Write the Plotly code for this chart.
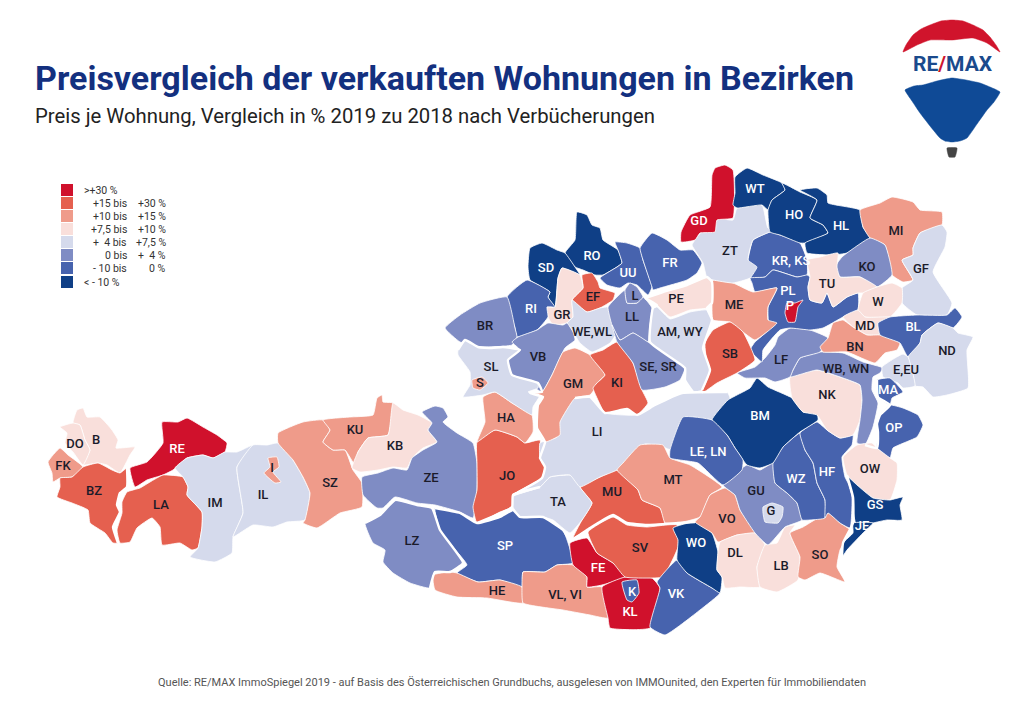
import plotly.graph_objects as go

# --- Daten ---
legende_links = [">+30 %", "+15 bis", "+10 bis", "+7,5 bis", "+  4 bis", "0 bis", "- 10 bis", "< - 10 %"]
legende_rechts = ["", "+30 %", "+15 %", "+10 %", "+7,5 %", "+  4 %", "0 %", ""]

# Klasse je Bezirk: 0 = >+30 % ... 7 = <-10 %
farben = ["#d0112c", "#e5604f", "#ef9b8a", "#f9dfdb", "#d5daec", "#7f8cc4", "#4763ae", "#0f3f86"]

bezirke = ["B", "DO", "FK", "BZ", "RE", "LA", "IM", "IL", "I", "SZ", "KU", "KB", "ZE", "LZ", "SP", "HE",
           "VL, VI", "FE", "KL", "K", "SV", "VK", "WO", "MU", "TA", "JO", "HA", "LI", "MT", "VO", "DL", "LB",
           "SO", "GU", "G", "WZ", "HF", "BM", "LE, LN", "NK", "WB, WN", "LF", "KR, KS", "PL", "P", "ME", "SB",
           "ZT", "GD", "WT", "HO", "HL", "MI", "GF", "KO", "TU", "W", "MD", "BN", "BL", "ND", "E,EU", "MA",
           "OP", "OW", "GS", "JE", "RO", "SD", "UU", "FR", "EF", "GR", "WE,WL", "RI", "BR", "VB", "SL", "S",
           "GM", "KI", "LL", "L", "SE, SR", "PE", "AM, WY"]

klassen = [3, 3, 2, 1, 0, 1, 4, 4, 2, 2, 2, 3, 5, 5, 6, 2,
           2, 0, 0, 6, 1, 6, 7, 1, 4, 1, 2, 4, 2, 2, 3, 3,
           2, 5, 4, 6, 6, 7, 6, 3, 5, 5, 6, 6, 0, 2, 1,
           4, 0, 7, 7, 7, 2, 4, 5, 3, 3, 3, 2, 6, 4, 4, 6,
           6, 3, 7, 7, 7, 7, 6, 6, 1, 3, 4, 6, 5, 5, 4, 2,
           2, 1, 5, 5, 5, 3, 4]

label_x = [96, 75, 63, 94, 177, 161, 215, 263, 272, 330, 355, 395, 431, 412, 505, 497,
           565, 598, 630, 632, 640, 676, 696, 612, 558, 507, 506, 597, 673, 727, 735, 781,
           820, 756, 771, 796, 827, 760, 708, 827, 846, 781, 791, 788, 790, 734, 730,
           730, 699, 755, 794, 841, 896, 921, 867, 827, 878, 865, 855, 913, 947, 906, 888,
           894, 870, 875, 862, 592, 546, 628, 670, 593, 562, 592, 531, 485, 538, 491, 480,
           573, 617, 632, 635, 658, 676, 680]
label_y = [441, 445, 467, 492, 450, 506, 504, 496, 469, 484, 431, 447, 479, 542, 547, 592,
           596, 569, 613, 593, 549, 595, 544, 493, 503, 477, 419, 433, 481, 520, 554, 567,
           556, 492, 512, 480, 473, 417, 453, 396, 370, 361, 262, 292, 307, 306, 355,
           252, 222, 190, 216, 227, 232, 270, 268, 285, 303, 327, 348, 328, 352, 371, 391,
           429, 470, 506, 527, 257, 269, 274, 264, 298, 316, 333, 310, 327, 358, 368, 384,
           385, 384, 318, 297, 368, 300, 333]

umrisse = [
    [(73,423),(77,410),(83,408),(87,417),(100,417),(112,430),(118,440),(116,448),(135,447),(130,455),(120,473),(107,465),(98,463),(83,465),(90,450),(85,440),(80,425)],
    [(60,427),(73,423),(80,425),(85,440),(90,450),(83,465),(73,452),(65,443),(67,433)],
    [(48,462),(60,448),(68,455),(83,467),(72,477),(60,478),(53,482),(52,473)],
    [(60,478),(72,477),(83,467),(98,463),(112,470),(120,473),(127,468),(127,487),(120,493),(117,505),(120,512),(113,527),(118,543),(113,543),(105,533),(90,523),(88,510),(72,503),(57,497),(60,487)],
    [(162,422),(178,422),(187,418),(203,427),(217,435),(227,443),(225,452),(213,458),(203,455),(187,458),(173,470),(163,475),(147,480),(135,487),(130,468),(147,462),(163,443)],
    [(127,492),(140,488),(150,482),(163,475),(183,477),(188,487),(187,495),(202,512),(202,527),(198,548),(192,550),(180,543),(162,545),(160,527),(152,518),(137,528),(130,542),(120,543),(117,530),(122,513),(122,502)],
    [(175,468),(187,458),(203,455),(213,458),(225,452),(237,452),(253,445),(237,467),(243,513),(233,537),(232,553),(215,562),(190,557),(198,548),(202,527),(202,512),(187,495),(188,487),(183,477)],
    [(253,445),(267,445),(278,443),(293,460),(303,477),(310,493),(305,520),(287,522),(273,527),(253,525),(233,537),(243,513),(237,467)],
    [(268,458),(277,457),(279,467),(273,472),(281,482),(275,483),(264,473),(270,467)],
    [(278,433),(303,422),(323,420),(330,430),(323,442),(333,450),(345,450),(353,470),(362,483),(362,507),(340,513),(317,528),(303,523),(305,520),(310,493),(303,477),(293,460),(278,443)],
    [(323,420),(350,417),(373,415),(377,398),(382,395),(383,402),(393,403),(388,435),(368,438),(358,452),(355,465),(345,450),(333,450),(323,442),(330,430)],
    [(393,403),(403,410),(418,415),(432,423),(428,430),(437,442),(423,448),(412,458),(407,468),(393,467),(378,470),(360,472),(352,468),(358,452),(368,438),(388,435)],
    [(422,412),(435,406),(443,408),(448,417),(443,422),(457,433),(473,443),(477,463),(477,490),(473,518),(460,512),(435,505),(417,503),(395,497),(383,508),(377,508),(363,495),(362,477),(378,473),(393,468),(407,470),(412,458),(423,450),(437,442),(428,430),(432,423)],
    [(365,523),(380,515),(395,500),(417,505),(432,508),(440,530),(463,563),(450,572),(435,572),(430,588),(410,583),(393,573),(383,562),(385,550),(373,543)],
    [(435,508),(460,513),(477,523),(500,517),(513,510),(520,517),(543,517),(563,530),(573,563),(557,565),(545,572),(523,572),(522,587),(500,580),(478,582),(457,573),(467,565),(453,547),(440,530)],
    [(433,575),(450,572),(457,573),(478,582),(500,580),(522,587),(523,603),(487,598),(457,597),(435,590)],
    [(522,587),(523,572),(545,572),(557,565),(573,565),(587,577),(587,587),(602,587),(608,618),(590,615),(563,610),(523,603)],
    [(570,543),(587,538),(597,553),(613,563),(625,577),(602,585),(587,587),(587,577),(573,565)],
    [(602,587),(625,577),(652,578),(660,588),(650,628),(610,628),(608,618)],
    [(622,582),(637,580),(639,593),(632,602),(627,600)],
    [(588,532),(613,517),(627,525),(647,527),(677,525),(678,547),(663,577),(652,578),(625,577),(613,563),(597,553)],
    [(677,560),(687,573),(712,588),(720,593),(700,610),(665,635),(650,627),(660,588),(657,582)],
    [(673,528),(695,522),(712,533),(718,552),(717,570),(722,577),(720,593),(712,588),(687,573),(677,560),(678,540)],
    [(580,487),(600,477),(617,470),(638,490),(642,500),(660,508),(665,523),(647,525),(627,523),(613,515),(590,528),(573,538),(582,520),(592,503)],
    [(512,497),(540,487),(550,477),(570,475),(582,480),(580,487),(592,503),(582,520),(570,533),(553,520),(543,517),(520,517),(513,507)],
    [(477,442),(495,430),(517,437),(525,443),(540,440),(540,458),(545,467),(542,478),(513,495),(512,507),(500,512),(477,523),(473,507),(477,490),(477,463)],
    [(483,397),(495,392),(512,403),(532,415),(533,432),(525,443),(517,437),(495,430),(477,442),(485,422)],
    [(540,443),(557,437),(560,413),(568,400),(590,397),(605,413),(637,415),(655,405),(682,393),(700,392),(727,392),(730,398),(712,420),(685,417),(672,450),(663,447),(645,444),(623,463),(617,470),(600,477),(580,487),(570,475),(550,477),(540,487),(513,495),(542,478),(545,467),(540,458)],
    [(640,445),(663,445),(670,458),(690,465),(722,487),(710,495),(700,517),(678,523),(665,523),(660,508),(642,500),(638,490),(617,470),(623,463)],
    [(700,517),(710,495),(725,488),(735,495),(740,510),(755,533),(737,535),(718,542),(712,533),(695,522)],
    [(720,542),(737,535),(755,533),(765,545),(757,567),(760,587),(740,587),(725,588),(722,577),(717,570),(718,552)],
    [(765,545),(777,543),(785,527),(795,525),(790,533),(800,557),(798,580),(777,592),(760,587),(757,567)],
    [(790,533),(803,527),(828,513),(840,523),(850,530),(840,550),(837,567),(845,582),(820,573),(805,580),(798,577),(800,557)],
    [(723,485),(747,465),(760,470),(773,463),(775,483),(787,493),(797,503),(802,520),(785,527),(768,545),(755,533),(740,510),(735,495)],
    [(763,507),(772,503),(783,507),(782,517),(778,523),(765,522),(763,513)],
    [(783,447),(800,433),(805,450),(813,463),(817,483),(825,500),(825,518),(810,520),(802,520),(797,503),(787,493),(775,483),(773,463)],
    [(800,433),(817,422),(827,430),(840,438),(853,435),(852,445),(842,457),(845,477),(848,483),(852,497),(850,528),(840,523),(828,513),(825,518),(825,500),(817,483),(813,463),(805,450)],
    [(712,420),(728,400),(750,388),(757,378),(768,387),(792,398),(803,412),(817,413),(818,420),(800,432),(783,447),(773,463),(760,468),(747,465),(735,448),(727,435)],
    [(670,450),(683,417),(712,420),(727,435),(735,448),(743,460),(742,470),(723,485),(698,463),(670,458)],
    [(790,377),(817,370),(843,378),(860,385),(862,400),(860,420),(853,435),(840,438),(827,430),(817,415),(803,412),(792,398)],
    [(820,352),(843,353),(863,362),(883,368),(880,373),(873,377),(872,390),(878,403),(873,427),(865,445),(857,443),(860,420),(862,400),(860,385),(843,378),(817,370),(790,377),(793,370),(800,358)],
    [(737,373),(755,367),(765,358),(775,345),(778,337),(790,328),(810,330),(828,338),(820,352),(800,358),(793,370),(790,377),(775,382),(765,378),(745,378)],
    [(753,240),(770,232),(780,235),(800,243),(807,260),(807,275),(797,277),(773,270),(765,277),(750,278),(748,260)],
    [(750,278),(765,277),(773,270),(797,277),(807,275),(810,277),(808,287),(810,300),(822,303),(827,293),(833,307),(847,297),(858,293),(858,310),(843,317),(823,328),(810,330),(790,328),(780,330),(763,350),(762,362),(750,350),(755,342),(768,330),(768,307),(777,288),(755,292),(752,283)],
    [(787,303),(795,303),(803,300),(798,307),(795,322),(788,322),(785,313)],
    [(713,280),(733,283),(753,292),(777,288),(768,307),(768,320),(777,323),(755,340),(743,332),(730,322),(713,320),(712,300)],
    [(705,343),(713,330),(730,322),(743,332),(755,360),(737,373),(717,383),(702,393),(707,367)],
    [(713,218),(733,220),(737,208),(762,205),(768,228),(778,230),(770,232),(753,240),(748,260),(757,267),(750,278),(733,283),(713,280),(707,278),(703,263),(692,245),(695,240)],
    [(681,242),(681,232),(690,215),(710,207),(712,175),(715,168),(725,165),(733,170),(733,218),(717,220),(715,232),(700,233),(695,240)],
    [(735,177),(747,168),(763,175),(782,183),(785,190),(772,200),(768,210),(762,205),(737,208),(733,205),(735,193)],
    [(782,183),(800,192),(817,200),(810,218),(823,225),(828,233),(805,243),(800,243),(780,235),(770,232),(768,210),(772,200),(785,190)],
    [(800,190),(817,188),(827,195),(828,203),(860,210),(863,227),(870,238),(847,253),(833,255),(807,253),(805,243),(828,233),(823,225),(810,218),(817,200)],
    [(860,210),(880,203),(892,197),(913,202),(920,210),(942,212),(942,225),(920,233),(913,248),(913,255),(902,260),(913,280),(903,282),(892,275),(885,245),(870,238),(863,227)],
    [(942,225),(947,232),(945,247),(933,272),(952,303),(947,315),(917,315),(902,303),(902,288),(913,280),(902,260),(913,255),(913,248),(920,233)],
    [(870,238),(885,245),(892,275),(877,287),(860,277),(840,277),(835,267),(842,257),(847,253)],
    [(807,260),(820,257),(838,253),(837,267),(840,277),(860,277),(877,287),(863,293),(858,293),(847,297),(833,307),(827,293),(822,303),(810,300),(808,287),(810,277)],
    [(877,287),(892,283),(902,288),(902,303),(890,317),(865,317),(858,310),(863,293)],
    [(843,317),(858,310),(865,317),(890,317),(878,323),(880,335),(867,335),(853,327)],
    [(820,347),(828,338),(833,323),(843,320),(853,327),(867,335),(880,335),(900,343),(897,350),(885,353),(875,363),(847,352),(823,352)],
    [(878,323),(890,317),(917,315),(947,315),(955,308),(962,317),(953,328),(938,323),(922,335),(920,343),(908,357),(900,343),(880,335)],
    [(908,357),(920,343),(922,335),(938,323),(953,328),(958,333),(973,337),(967,350),(968,388),(947,395),(933,397),(923,387),(915,386),(912,370)],
    [(882,367),(895,358),(903,354),(908,357),(912,370),(915,386),(903,388),(898,383),(883,377)],
    [(877,380),(890,378),(903,392),(892,398),(890,405),(878,397)],
    [(890,405),(903,408),(918,415),(923,425),(917,437),(893,448),(890,458),(877,448),(878,432),(877,424),(880,415)],
    [(857,445),(872,443),(877,448),(890,458),(897,463),(897,480),(890,500),(873,498),(857,485),(847,475),(843,457)],
    [(848,477),(857,485),(873,498),(890,500),(903,497),(900,505),(902,520),(887,520),(873,523),(857,527),(853,510),(853,497)],
    [(853,523),(873,523),(863,533),(847,550),(842,557),(843,543),(853,533)],
    [(577,212),(587,215),(592,225),(600,228),(603,240),(618,250),(622,263),(617,267),(603,275),(595,275),(583,270),(575,267),(565,253),(575,240)],
    [(530,248),(542,243),(557,250),(565,253),(575,267),(580,275),(562,268),(558,278),(555,307),(548,297),(550,292),(530,280),(528,267)],
    [(615,242),(627,243),(640,248),(643,260),(652,287),(648,295),(637,285),(628,283),(620,288),(607,285),(600,278),(617,267),(622,263),(618,250)],
    [(640,248),(652,233),(667,240),(680,250),(693,250),(702,263),(697,273),(687,280),(660,288),(653,290),(652,287),(643,260)],
    [(582,275),(592,273),(598,282),(600,288),(615,293),(613,300),(600,308),(587,312),(572,300),(583,288)],
    [(562,268),(580,275),(583,288),(572,300),(573,317),(567,323),(553,325),(548,317),(547,307),(555,307),(558,278)],
    [(572,300),(587,312),(600,308),(608,307),(613,320),(617,332),(610,343),(592,352),(580,343),(573,332),(567,323),(573,317)],
    [(507,297),(527,280),(550,292),(548,297),(555,307),(547,307),(548,317),(537,330),(517,337),(515,328)],
    [(445,328),(460,315),(480,303),(507,297),(515,328),(517,337),(512,345),(480,347),(460,342)],
    [(512,342),(518,337),(537,330),(548,323),(563,325),(567,323),(573,332),(575,340),(565,348),(552,375),(542,392),(528,383),(512,375),(508,360),(520,350)],
    [(458,350),(465,340),(478,347),(492,348),(503,347),(520,350),(508,360),(512,375),(538,383),(538,388),(528,392),(540,395),(533,407),(532,415),(512,403),(495,392),(483,395),(463,397),(470,385),(470,372),(458,355)],
    [(472,380),(482,377),(488,383),(480,390),(473,388)],
    [(552,375),(563,352),(575,348),(590,355),(605,375),(597,383),(594,390),(590,395),(575,398),(560,422),(560,435),(545,442),(537,428),(538,405),(543,397),(530,393),(542,392)],
    [(590,355),(603,350),(617,342),(633,363),(642,390),(648,403),(637,415),(627,409),(605,413),(597,398),(593,388),(597,383),(605,375)],
    [(608,307),(617,297),(625,290),(627,303),(637,303),(643,297),(652,308),(650,325),(648,342),(633,333),(620,340),(612,325)],
    [(625,290),(630,283),(637,287),(643,297),(637,303),(627,303)],
    [(612,325),(620,340),(633,333),(648,342),(677,360),(685,368),(680,380),(665,387),(642,390),(633,363),(617,342)],
    [(645,298),(663,292),(687,285),(707,277),(712,282),(712,303),(707,308),(690,310),(670,317),(657,305)],
    [(657,307),(670,319),(690,312),(707,310),(712,320),(703,348),(710,370),(702,390),(693,392),(685,380),(685,368),(650,342),(653,308)],
]

# Landesgrenzen, in der Karte breiter und weiss
landesgrenzen = [
    [(127,468),(127,487),(120,493),(117,505),(120,512),(113,527),(118,543)],
    [(365,523),(380,515),(395,500),(417,505),(432,508),(440,530),(463,563),(450,572),(435,572),(430,588)],
    [(435,508),(460,513),(477,523),(500,517),(513,510),(520,517),(543,517),(563,530),(570,540),(590,528),(613,515),(627,523),(647,525),(678,523),(695,522)],
    [(458,350),(465,340),(478,347),(492,348),(503,347),(520,350),(508,360),(512,375),(538,383),(542,392),(530,393),(543,397),(538,405),(537,428),(545,442),(540,458),(545,467),(542,478),(513,495)],
    [(575,398),(590,397),(605,413),(627,409),(637,415),(655,405),(682,393),(727,392)],
    [(645,298),(663,292),(687,285),(707,277),(712,282),(712,303),(707,308),(712,320),(703,348),(710,370),(702,390)],
    [(645,298),(657,305),(653,308),(650,342),(685,368),(685,380),(693,392)],
    [(877,380),(878,397),(890,405),(880,415),(877,424),(878,432),(877,448),(865,445)],
    [(847,475),(853,497),(853,523),(843,543),(842,557)],
    [(540,487),(513,495),(512,507),(477,523)],
]

# Ballon im Logo
ballon_rot = [(903,52),(906,45),(913,35),(921,29),(930,25),(941,21),(952,20),(963,21),(973,25),(983,30),(990,37),(996,45),(1000,52),(987,43),(973,38),(952,40),(930,40),(917,45)]
ballon_blau = [(905,90),(914,86),(923,85),(937,81),(952,78),(966,80),(980,83),(990,87),(1000,92),(994,102),(987,110),(977,124),(967,138),(960,141),(952,142),(945,141),(940,138),(930,126),(920,113),(912,101)]
ballon_korb = [(947,148),(957,148),(955,157),(949,157)]


def add_flaeche(fig, punkte, farbe, rand="white", breite=0.8):
    fig.add_trace(go.Scatter(
        x=[p[0] for p in punkte] + [punkte[0][0]],
        y=[p[1] for p in punkte] + [punkte[0][1]],
        mode="lines", fill="toself", fillcolor=farbe,
        line=dict(color=rand, width=breite, shape="spline", smoothing=0.4), hoverinfo="skip",
    ))


fig = go.Figure()

for umriss, klasse in zip(umrisse, klassen):
    add_flaeche(fig, umriss, farben[klasse])

for grenze in landesgrenzen:
    fig.add_trace(go.Scatter(
        x=[p[0] for p in grenze], y=[p[1] for p in grenze],
        mode="lines", line=dict(color="white", width=2.4, shape="spline", smoothing=0.4), hoverinfo="skip",
    ))

# Kuerzel, weiss auf den dunklen Klassen
fig.add_trace(go.Scatter(
    x=label_x, y=label_y, text=bezirke, mode="text", hoverinfo="skip",
    textfont=dict(family="Roboto, sans-serif", size=13, weight=500,
                  color=["white" if k in (0, 6, 7) else "#1b1b2a" for k in klassen]),
))

# Legende
legende_y = [190, 203, 216, 229, 242, 255, 268, 282]
legende_font = dict(family="Roboto, sans-serif", size=10.5, color="#333333")
fig.add_trace(go.Scatter(
    x=[67] * len(farben), y=legende_y, mode="markers", hoverinfo="skip",
    marker=dict(symbol="square", size=12, color=farben),
))
for y, links, rechts in zip(legende_y, legende_links, legende_rechts):
    if rechts:
        fig.add_annotation(x=129, y=y, text=links, showarrow=False, xanchor="right", font=legende_font)
        fig.add_annotation(x=168, y=y, text=rechts, showarrow=False, xanchor="right", font=legende_font)
    else:
        fig.add_annotation(x=82, y=y, text=links, showarrow=False, xanchor="left", font=legende_font)

# Logo
add_flaeche(fig, ballon_rot, "#d0142c", rand="#d0142c", breite=0.5)
add_flaeche(fig, ballon_blau, "#0f4a96", rand="#0f4a96", breite=0.5)
add_flaeche(fig, ballon_korb, "#444444", rand="#444444", breite=0.5)
fig.add_annotation(x=953, y=64, text='<b>RE<span style="color:#d0142c">/</span>MAX</b>', showarrow=False,
                   font=dict(family="Roboto, sans-serif", size=21, color="#1a4a8c"))

# Titel und Quelle
fig.add_annotation(x=33, y=78, text="<b>Preisvergleich der verkauften Wohnungen in Bezirken</b>",
                   showarrow=False, xanchor="left",
                   font=dict(family="Roboto, sans-serif", size=34, color="#13307f"))
fig.add_annotation(x=33, y=116, text="Preis je Wohnung, Vergleich in % 2019 zu 2018 nach Verbücherungen",
                   showarrow=False, xanchor="left",
                   font=dict(family="Roboto, sans-serif", size=20.3, color="#222222"))
fig.add_annotation(x=512, y=682,
                   text="Quelle: RE/MAX ImmoSpiegel 2019 - auf Basis des Österreichischen Grundbuchs, ausgelesen von IMMOunited, den Experten für Immobiliendaten",
                   showarrow=False,
                   font=dict(family="Roboto, sans-serif", size=11, color="#555555"))

fig.update_layout(
    width=1024, height=726,
    margin=dict(l=0, r=0, t=0, b=0),
    paper_bgcolor="white", plot_bgcolor="white",
    showlegend=False,
    xaxis=dict(range=[0, 1024], visible=False, fixedrange=True),
    yaxis=dict(range=[726, 0], visible=False, fixedrange=True),
)

fig.write_html("out.html", post_script="document.body.style.margin='0';document.body.style.overflow='hidden';",
               config=dict(displayModeBar=False))
